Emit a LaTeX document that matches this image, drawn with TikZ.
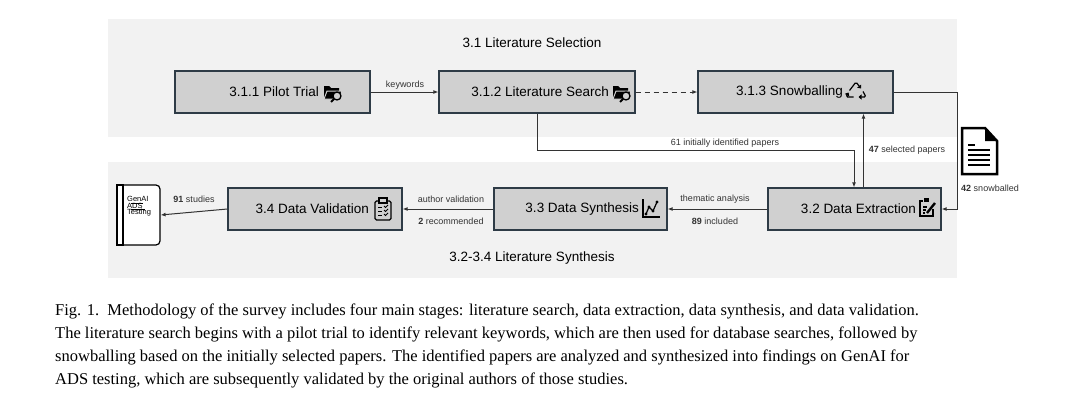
\documentclass[tikz,border=0pt]{standalone}
\usepackage{fontspec}
\setmainfont{Liberation Serif}
\setsansfont{Liberation Sans}
\usepackage{tikz}
\usetikzlibrary{calc}
\usetikzlibrary{shapes}
\usetikzlibrary{arrows.meta}
\definecolor{panelgray}{HTML}{F2F2F2}
\definecolor{stagegray}{HTML}{D0D0D0}
\definecolor{stageline}{HTML}{2E3B46}
\definecolor{flowline}{HTML}{333333}
\tikzset{
  stage/.style={draw=stageline, fill=stagegray, line width=1.2pt, minimum width=#1, minimum height=42pt, inner sep=0pt},
  stagetext/.style={font=\sffamily\fontsize{13.5}{16}\selectfont, inner sep=0pt},
  paneltext/.style={font=\sffamily\fontsize{13.5}{16}\selectfont, inner sep=0pt},
  flowtext/.style={font=\sffamily\fontsize{9}{11}\selectfont, text=flowline, inner sep=0pt},
  booktext/.style={font=\sffamily\fontsize{7.5}{9}\selectfont, inner sep=0pt, anchor=west},
  flow/.style={draw=flowline, line width=1pt, -{Latex[length=5pt,width=4pt]}}
}
\newcommand{\searchfolder}[2]{\begin{scope}[shift={(#1,#2)}] \fill (-9,-7) -- (-4,-7) -- (-2,-5) -- (6,-5) -- (6,5) -- (-9,5) -- cycle; \filldraw[draw=stagegray, line width=1pt] (-9,6) -- (-6,-2) -- (9,-2) -- (6,6) -- cycle; \filldraw[fill=stagegray, draw=black, line width=1.3pt] (4,3) circle (4); \draw[line width=2pt] (1,6) -- (-2,9); \end{scope}}
\newcommand{\recycleicon}[2]{\begin{scope}[shift={(#1,#2)}, line width=1.2pt, rounded corners=1.5pt, -{Triangle[length=3pt,width=5pt]}] \draw (-6.5,0.5) -- (0,-8) -- (5,-1.5); \draw (7,1.5) -- (10,7) -- (2.5,7); \draw (-2.5,7) -- (-10,7) -- (-7.5,2.5); \end{scope}}
\newcommand{\penclip}[2]{\begin{scope}[shift={(#1,#2)}] \draw[line width=1.3pt] (-4,-6) -- (-7,-6) -- (-7,9) -- (6,9) -- (6,2); \fill (-3,-9) rectangle (2,-5); \draw[line width=1.2pt] (-4,0) -- (0,0) (-4,3) -- (-1,3) (-4,6) -- (-2,6); \draw[line width=2.4pt] (0,6) -- (8,-4); \end{scope}}
\newcommand{\trendchart}[2]{\begin{scope}[shift={(#1,#2)}] \draw[line width=1.3pt] (-8,-9) -- (-8,9) -- (9,9); \draw[line width=1.2pt] (-5,6) -- (-2,-1) -- (2,3) -- (6,-6); \foreach \px/\py in {-5/6,-2/-1,2/3,6/-6} \fill (\px,\py) circle (1.6); \end{scope}}
\newcommand{\checkclip}[2]{\begin{scope}[shift={(#1,#2)}] \draw[line width=1.3pt, rounded corners=1.5] (-8,-8) rectangle (8,11); \filldraw[fill=stagegray, draw=black, line width=1.2pt] (-4,-11) rectangle (4,-6); \foreach \py in {-2,2,6} { \draw[line width=1pt] (-5,\py) -- (-1,\py); \draw[line width=1pt] (1,\py-1) -- (2.5,\py+0.5) -- (5,\py-2); } \end{scope}}

\begin{document}
\begin{tikzpicture}[x=1pt, y=-1pt]
        \useasboundingbox (0,0) rectangle (1080,415);
        % panels
        \fill[panelgray] (108,19) rectangle (957,137);
        \fill[panelgray] (108,162) rectangle (957,278);
        \node[paneltext] (selection) at (532,43) {3.1 Literature Selection};
        \node[paneltext] (synthesis) at (532,258) {3.2-3.4 Literature Synthesis};
        % stages
        \node[stage=195pt] (pilot) at (272.5,92) {};
        \node[stage=196pt] (search) at (537,92) {};
        \node[stage=195pt] (snow) at (795.5,92) {};
        \node[stage=173pt] (extract) at (854.5,209) {};
        \node[stage=173pt] (synth) at (580.5,209) {};
        \node[stage=174pt] (valid) at (315,209) {};
        \node[stagetext, anchor=east] (pilottext) at (319,92) {3.1.1 Pilot Trial};
        \node[stagetext, anchor=east] (searchtext) at (609,92) {3.1.2 Literature Search};
        \node[stagetext, anchor=east] (snowtext) at (843,92) {3.1.3 Snowballing};
        \node[stagetext, anchor=east] (extracttext) at (916,209) {3.2 Data Extraction};
        \node[stagetext, anchor=east] (synthtext) at (639,209) {3.3 Data Synthesis};
        \node[stagetext, anchor=east] (validtext) at (369,209) {3.4 Data Validation};
        \searchfolder{333}{93}
        \searchfolder{622}{93}
        \recycleicon{856}{90}
        \penclip{927}{207}
        \trendchart{651}{208}
        \checkclip{383}{209}
        % output book
        \node[draw, fill=white, line width=1.2pt, rounded corners=4pt, minimum width=43pt, minimum height=60pt] (book) at (138.5,215) {};
        \draw[fill=white, line width=1.2pt] (117,185) rectangle (123,245);
        \node[booktext] (genai) at (127,199) {GenAI};
        \node[booktext] (ads) at (127,206) {ADS};
        \node[booktext] (testing) at (127,213) {Testing};
        \draw[line width=0.8pt] (131,203.5) -- (143,203.5) (131,209.5) -- (145,209.5);
        % snowball document
        \filldraw[fill=white, line width=2.5pt, line join=miter] (962,128) -- (985,128) -- (997,141) -- (997,174) -- (962,174) -- cycle;
        \fill (985,128) -- (985,141) -- (997,141) -- cycle;
        \draw[line width=1.4pt] (968,145) -- (975,145);
        \foreach \ly in {150,155,160,165} \draw[line width=1.4pt] (968,\ly) -- (990,\ly);
        % connectors
        \coordinate (bend) at (854,150);
        \coordinate (rightcol) at (957,209);
        \draw[flow] (pilot.east) -- (search.west);
        \draw[flow, dashed, dash pattern=on 5pt off 4pt] (search.east) -- (snow.west);
        \draw[flow] (search.south) |- (bend) -- (bend |- extract.north);
        \draw[flow] ([xshift=9pt]extract.north) -- ([xshift=9pt]extract.north |- snow.south);
        \draw[flow] (snow.east) -| (rightcol) -- (extract.east);
        \draw[flow] (extract.west) -- (synth.east);
        \draw[flow] (synth.west) -- (valid.east);
        \draw[flow] (valid.west) -- (book.east);
        \node[flowtext] (kw) at (405,85) {keywords};
        \node[flowtext] (initial) at (725,143) {61 initially identified papers};
        \node[flowtext] (selected) at (907,150) {\textbf{47} selected papers};
        \node[flowtext] (snowballed) at (990,188) {\textbf{42} snowballed};
        \node[flowtext] (thematic) at (715,199) {thematic analysis};
        \node[flowtext] (included) at (715,221) {\textbf{89} included};
        \node[flowtext] (author) at (451,199) {author validation};
        \node[flowtext] (recommended) at (451,221) {\textbf{2} recommended};
        \node[flowtext] (studies) at (194,199) {\textbf{91} studies};
        % caption
        \node[anchor=north west, align=left, inner sep=0pt, font=\fontsize{16.5}{23}\selectfont] (caption) at (55,304) {Fig. 1.\enspace Methodology of the survey includes four main stages: literature search, data extraction, data synthesis, and data validation.\\The literature search begins with a pilot trial to identify relevant keywords, which are then used for database searches, followed by\\snowballing based on the initially selected papers. The identified papers are analyzed and synthesized into findings on GenAI for\\ADS testing, which are subsequently validated by the original authors of those studies.};
\end{tikzpicture}
\end{document}
